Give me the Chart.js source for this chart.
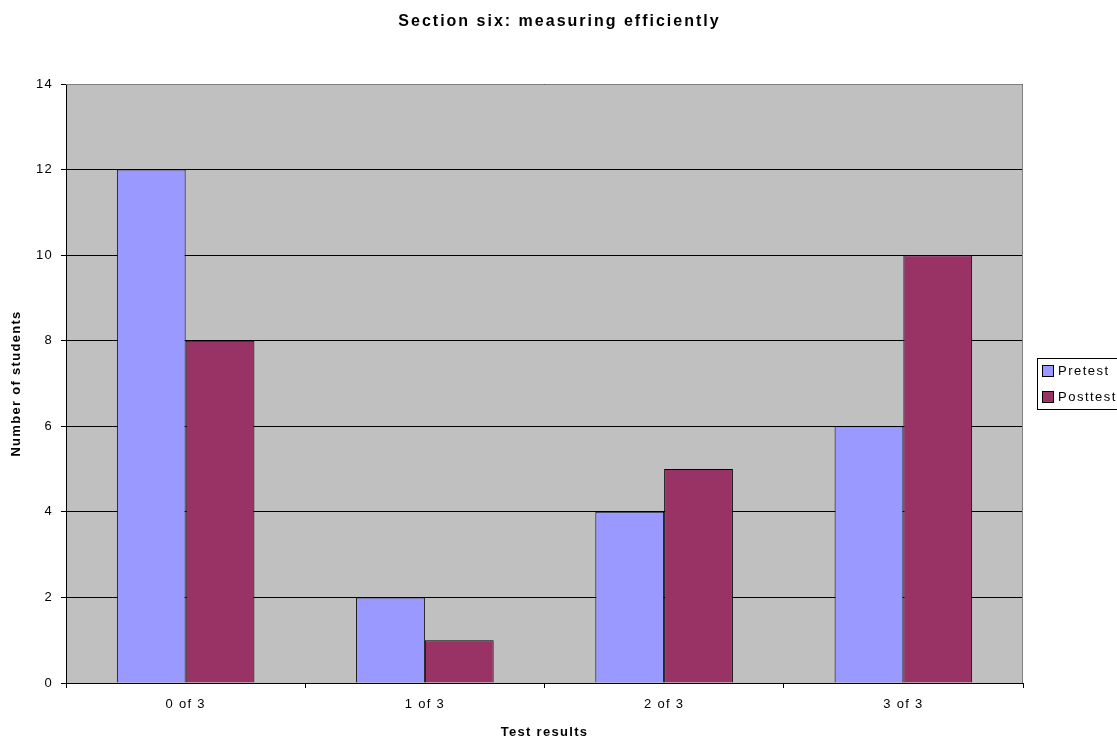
<!DOCTYPE html>
<html>
<head>
<meta charset="utf-8">
<script src="https://cdn.jsdelivr.net/npm/chart.js@4.4.1/dist/chart.umd.min.js"></script>
<style>
  html, body { margin: 0; padding: 0; background: #fff; }
  #wrap { width: 1117px; height: 740px; position: relative; }
</style>
</head>
<body>
<div id="wrap"><canvas id="c" width="1117" height="740"></canvas></div>
<script>
// Results per category
const categories = ['0 of 3', '1 of 3', '2 of 3', '3 of 3'];
const pretest = [12, 2, 4, 6];
const posttest = [8, 1, 5, 10];
const yTicks = [0, 2, 4, 6, 8, 10, 12, 14];
const chartTitle = 'Section six: measuring efficiently';

const FONT = "'Liberation Sans', Arial, sans-serif";

// Grey plot background plus grey top/right frame
const plotBackground = {
  id: 'plotBackground',
  beforeDraw(chart) {
    const { ctx, chartArea: a } = chart;
    ctx.save();
    ctx.fillStyle = '#C0C0C0';
    ctx.fillRect(a.left, a.top, a.right - a.left, a.bottom - a.top);
    ctx.restore();
  },
  afterDatasetsDraw(chart) {
    const { ctx, chartArea: a } = chart;
    ctx.save();
    ctx.strokeStyle = '#808080';
    ctx.lineWidth = 1;
    ctx.beginPath();
    ctx.moveTo(a.left, a.top + 0.5);
    ctx.lineTo(a.right - 0.5, a.top + 0.5);
    ctx.lineTo(a.right - 0.5, a.bottom);
    ctx.stroke();
    ctx.restore();
  }
};

// Wider letter spacing for each text element
const spacing = {
  id: 'spacing',
  beforeDraw(chart) { chart.ctx.letterSpacing = '1.3px'; },
  beforeDatasetsDraw(chart) { chart.ctx.letterSpacing = '1.3px'; }
};

// Title centred across the whole canvas
const canvasTitle = {
  id: 'canvasTitle',
  afterDraw(chart) {
    const { ctx, width } = chart;
    ctx.save();
    ctx.font = 'bold 16px ' + FONT;
    ctx.letterSpacing = '2px';
    ctx.fillStyle = '#000';
    ctx.textAlign = 'center';
    ctx.textBaseline = 'middle';
    ctx.fillText(chartTitle, width / 2 + 1, 22);
    ctx.restore();
  }
};

// Boxed legend on the right
const boxedLegend = {
  id: 'boxedLegend',
  afterDraw(chart) {
    const { ctx } = chart;
    const sets = chart.data.datasets;
    const x = 1037, y = 358, w = 82, h = 51;
    ctx.save();
    ctx.fillStyle = '#fff';
    ctx.fillRect(x, y, w, h);
    ctx.strokeStyle = '#000';
    ctx.lineWidth = 1;
    ctx.strokeRect(x + 0.5, y + 0.5, w, h);
    ctx.font = '13px ' + FONT;
    ctx.letterSpacing = '1.5px';
    ctx.textBaseline = 'middle';
    ctx.textAlign = 'left';
    sets.forEach((ds, i) => {
      const cy = y + 13 + i * 26;
      ctx.fillStyle = ds.backgroundColor;
      ctx.fillRect(x + 5.5, cy - 5.5, 11, 11);
      ctx.strokeStyle = '#000';
      ctx.strokeRect(x + 5.5, cy - 5.5, 11, 11);
      ctx.fillStyle = '#000';
      ctx.fillText(ds.label, x + 21, cy);
    });
    ctx.restore();
  }
};

new Chart(document.getElementById('c'), {
  type: 'bar',
  data: {
    labels: categories,
    datasets: [
      { label: 'Pretest', data: pretest, backgroundColor: '#9999FF', borderColor: '#000', borderWidth: 1 },
      { label: 'Posttest', data: posttest, backgroundColor: '#993366', borderColor: '#000', borderWidth: 1 }
    ]
  },
  options: {
    responsive: false,
    animation: false,
    events: [],
    layout: { padding: { left: 0, right: 94, top: 84, bottom: 0 } },
    datasets: { bar: { categoryPercentage: 0.575, barPercentage: 1.0 } },
    plugins: {
      legend: { display: false },
      tooltip: { enabled: false },
      title: { display: false }
    },
    scales: {
      x: {
        afterFit(s) { s.height = 57; },
        grid: { offset: true, drawOnChartArea: false, color: '#000', tickColor: '#000', tickLength: 5 },
        border: { color: '#000', width: 1 },
        ticks: { color: '#000', font: { family: FONT, size: 13 }, padding: 9 },
        title: {
          display: true, text: 'Test results', color: '#000',
          font: { family: FONT, size: 13, weight: 'bold' },
          padding: { top: 0, bottom: 0 }
        }
      },
      y: {
        min: 0, max: 14,
        afterFit(s) { s.width = 66; },
        afterBuildTicks(s) { s.ticks = yTicks.map(v => ({ value: v })); },
        grid: { color: '#000', tickColor: '#000', tickLength: 5 },
        border: { color: '#000', width: 1 },
        ticks: { color: '#000', font: { family: FONT, size: 13 }, padding: 8 },
        title: {
          display: true, text: 'Number of students', color: '#000',
          font: { family: FONT, size: 13, weight: 'bold' },
          padding: { top: 9, bottom: 0 }
        }
      }
    }
  },
  plugins: [spacing, plotBackground, canvasTitle, boxedLegend]
});
</script>
</body>
</html>
